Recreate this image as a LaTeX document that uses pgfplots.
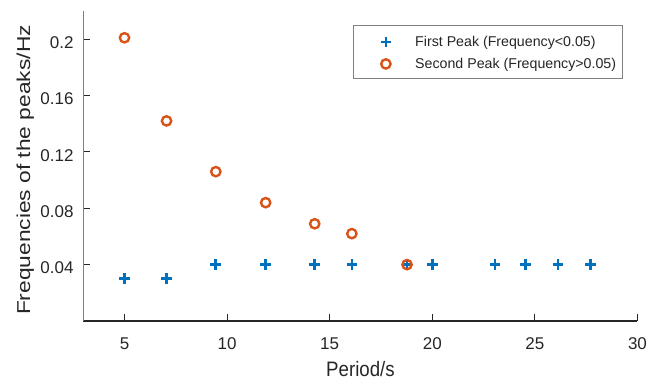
\documentclass[border=0pt]{standalone}
\usepackage{fontspec}
\setmainfont{Liberation Sans}
\usepackage{pgfplots}
\pgfplotsset{compat=1.18}

\definecolor{mblue}{RGB}{0,114,189}
\definecolor{morange}{RGB}{217,83,25}
\definecolor{txt}{RGB}{38,38,38}
\definecolor{yline}{RGB}{128,128,128}

\begin{document}
\begin{tikzpicture}
\useasboundingbox (-62.6pt,-45pt) rectangle (432.4pt,240.75pt);
\begin{axis}[
  at={(0,0)}, anchor=south west,
  scale only axis,
  width=415.5pt, height=232.5pt,
  xmin=3, xmax=30, ymin=0, ymax=0.22,
  axis lines=left,
  x axis line style={-, line width=1.5pt, color=txt},
  y axis line style={-, line width=0.75pt, color=yline},
  tick align=inside,
  major tick length=4.9pt,
  every tick/.style={line width=0.7pt, color=txt},
  xtick={5,10,15,20,25,30},
  xticklabels={5,10,15,20,25,30},
  ytick={0.04,0.08,0.12,0.16,0.2},
  yticklabels={0.04,0.08,0.12,0.16,0.2},
  xticklabel style={font=\fontsize{12.75pt}{14pt}\selectfont, text=txt, anchor=base, inner sep=0pt, yshift=-21.2pt},
  yticklabel style={font=\fontsize{12.75pt}{14pt}\selectfont, text=txt, anchor=base east, inner sep=0pt, xshift=-7.3pt, yshift=-7pt},
  xlabel={\scalebox{1}[1.12]{Period/s}},
  ylabel={\scalebox{1.22}[1]{Frequencies of the peaks/Hz}},
  xlabel style={font=\fontsize{14pt}{16pt}\selectfont, text=txt, at={(axis description cs:0.5,0)}, anchor=base, yshift=-41.8pt},
  ylabel style={font=\fontsize{14pt}{16pt}\selectfont, text=txt, at={(axis description cs:-0.105,0.487)}, anchor=center},
  legend style={
    at={(axis description cs:0.973,0.954)}, anchor=north east,
    draw=yline, line width=0.6pt,
    fill=white,
    inner xsep=4.5pt, inner ysep=4.8pt,
    row sep=3pt,
    font=\fontsize{10.65pt}{12pt}\selectfont, text=txt,
    nodes={inner sep=0pt, anchor=base west},
    /tikz/every even column/.append style={column sep=0pt},
  },
  legend cell align=left,
  legend image code/.code={
    \path[draw=none, fill=none] (-19.5pt,-2.5pt) rectangle (22pt,11pt);
    \draw[#1] plot coordinates {(0pt,3.6pt)};
  },
]
\addplot[only marks, mark=+, mark size=4pt, line width=2pt, color=mblue]
  coordinates {
    (5.00,0.030) (7.05,0.030) (9.45,0.040) (11.88,0.040)
    (14.27,0.040) (16.08,0.040) (18.77,0.040) (20.00,0.040)
    (23.06,0.040) (24.55,0.040) (26.13,0.040) (27.72,0.040)
  };
\addlegendentry{First Peak (Frequency<0.05)}
\addplot[only marks, mark=o, mark size=3.5pt, line width=1.8pt, color=morange]
  coordinates {
    (5.00,0.201) (7.05,0.142) (9.45,0.106) (11.88,0.084)
    (14.27,0.069) (16.08,0.062) (18.77,0.040)
  };
\addlegendentry{Second Peak (Frequency>0.05)}
\end{axis}
\end{tikzpicture}
\end{document}
